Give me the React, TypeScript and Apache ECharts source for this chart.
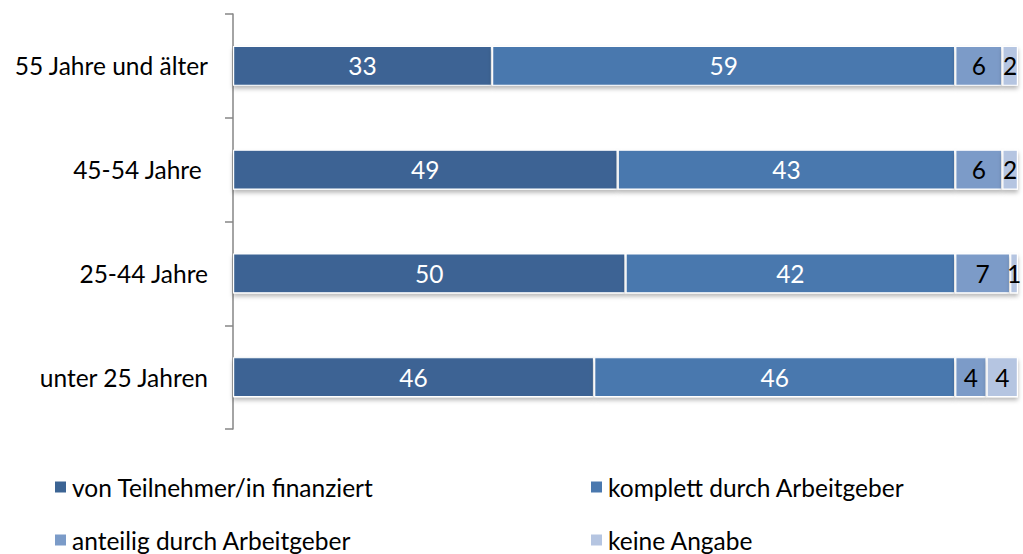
import React, { useEffect, useRef } from "react";
import * as echarts from "echarts";

const categories = ["55 Jahre und älter", "45-54 Jahre ", "25-44 Jahre", "unter 25 Jahren"];
const seriesNames = [
  "von Teilnehmer/in finanziert",
  "komplett durch Arbeitgeber",
  "anteilig durch Arbeitgeber",
  "keine Angabe",
];
const teilnehmer = [33, 49, 50, 46];
const komplett = [59, 43, 42, 46];
const anteilig = [6, 6, 7, 4];
const keineAngabe = [2, 2, 1, 4];
const colors = ["#3C6494", "#4A78AE", "#7B9BC8", "#B5C5E1"];
const labelColors = ["#ffffff", "#ffffff", "#000000", "#000000"];

const FONT = "Lato, 'Open Sans', sans-serif";
const FS = 24.5;

export default function App() {
  const ref = useRef<HTMLDivElement>(null);
  useEffect(() => {
    document.body.style.margin = "0";
    const chart = echarts.init(ref.current!, undefined, { renderer: "svg" });
    const values = [teilnehmer, komplett, anteilig, keineAngabe];
    const legendPos = [
      { left: 53, top: 474 },
      { left: 589, top: 474 },
      { left: 53, top: 527 },
      { left: 589, top: 527 },
    ];
    chart.setOption({
      animation: false,
      textStyle: { fontFamily: FONT },
      grid: { left: 233, right: 5, top: 14, bottom: 125, containLabel: false },
      xAxis: {
        type: "value",
        min: 0,
        max: 100,
        show: false,
      },
      yAxis: {
        type: "category",
        data: categories,
        inverse: true,
        axisLine: { show: true, lineStyle: { color: "#868686", width: 1.5 } },
        axisTick: { show: true, length: 8, lineStyle: { color: "#868686", width: 1.5 } },
        axisLabel: { color: "#000", fontSize: FS, fontFamily: FONT, margin: 25 },
      },
      legend: seriesNames.map((n, i) => ({
        data: [n],
        left: legendPos[i].left,
        top: legendPos[i].top,
        padding: 0,
        icon: "rect",
        itemWidth: 13,
        itemHeight: 13,
        itemGap: 8,
        textStyle: { fontSize: FS, lineHeight: 26, color: "#000", fontFamily: FONT, padding: [0, 0, 0, 0] },
        selectedMode: false,
      })),
      series: seriesNames.map((n, i) => ({
        name: n,
        type: "bar",
        stack: "total",
        data: values[i],
        barWidth: 40,
        itemStyle: {
          color: colors[i],
          borderColor: "#ffffff",
          borderWidth: 1.2,
          shadowColor: "rgba(0,0,0,0.28)",
          shadowBlur: 4,
          shadowOffsetY: 3,
        },
        label: {
          show: true,
          position: "inside",
          color: labelColors[i],
          fontSize: FS,
          fontFamily: FONT,
        },
      })),
    });
    return () => chart.dispose();
  }, []);
  return <div ref={ref} style={{ width: 1023, height: 554 }} />;
}
